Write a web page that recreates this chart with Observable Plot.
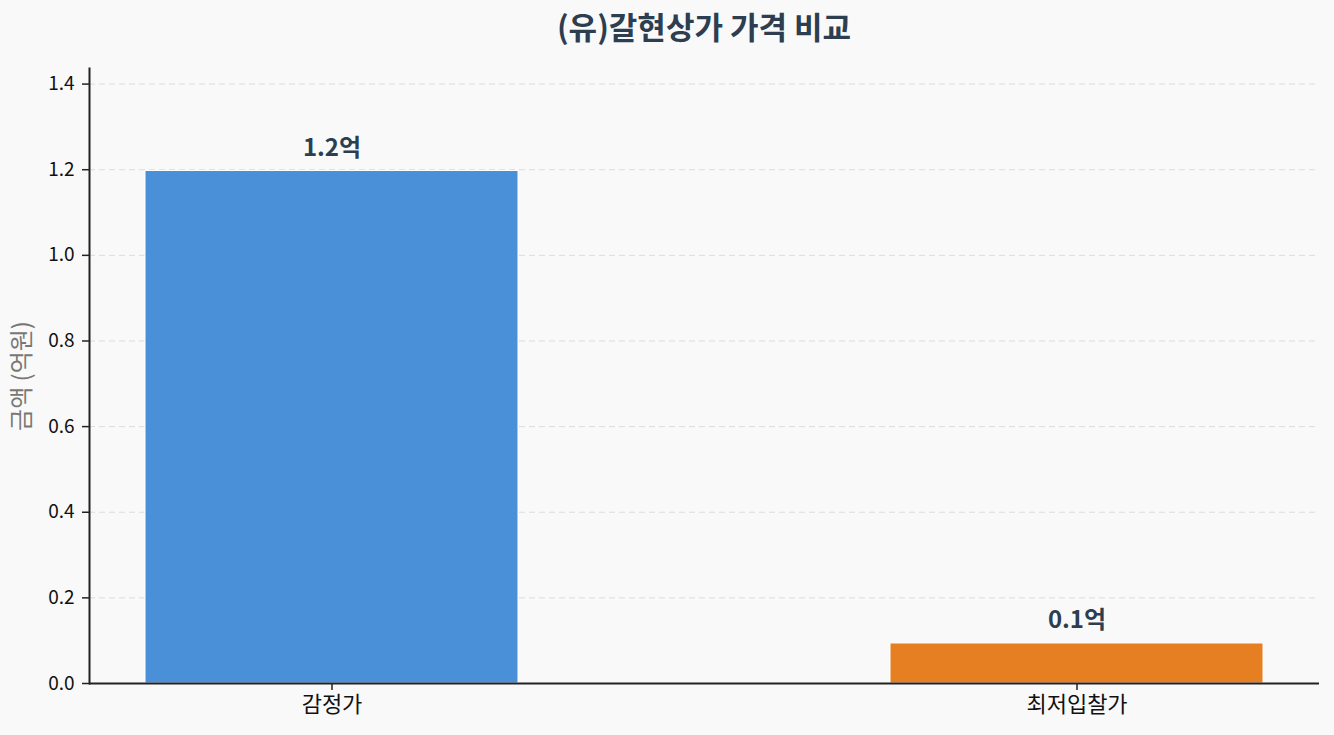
<!DOCTYPE html>
<html><head><meta charset="utf-8">
<script src="https://cdn.jsdelivr.net/npm/d3@7"></script>
<script src="https://cdn.jsdelivr.net/npm/@observablehq/plot@0.6"></script>
<style>
html,body{margin:0;padding:0;background:#f9f9f9;}
body{width:1334px;height:735px;overflow:hidden;font-family:"Noto Sans CJK KR","Noto Sans",sans-serif;}
#title{height:52px;line-height:51px;text-align:center;font-size:31px;font-weight:bold;color:#2c3e50;padding-left:74px;box-sizing:border-box;}
</style></head>
<body>
<div id="title">(유)갈현상가 가격 비교</div>
<div id="chart"></div>
<script>
const categories = ["감정가", "최저입찰가"];
const values = [1.197, 0.0935]; // 억원
const colors = ["#4a90d9", "#e67e22"];
const yTicks = [0, 0.2, 0.4, 0.6, 0.8, 1.0, 1.2, 1.4];

const data = categories.map((c, i) => ({cat: c, v: values[i], color: colors[i], label: values[i].toFixed(1) + "억"}));
const FONT = '"Noto Sans CJK KR","Noto Sans",sans-serif';

const chart = Plot.plot({
  width: 1334,
  height: 683,
  marginLeft: 89,
  marginRight: 15,
  marginTop: 16,
  marginBottom: 52,
  style: {background: "#f9f9f9", fontFamily: FONT, color: "#111"},
  x: {domain: categories, paddingInner: 0.5, paddingOuter: 0.075, axis: null},
  y: {domain: [0, values[0] * 1.2], axis: null},
  marks: [
    Plot.ruleY(yTicks.slice(1), {y: d => d, stroke: "#dcdcdc", strokeDasharray: "6,4", strokeWidth: 1}),
    Plot.barY(data, {x: "cat", y: "v", fill: "color", stroke: "white", strokeWidth: 1}),
    Plot.text(data, {x: "cat", y: "v", text: "label", lineAnchor: "bottom", dy: -15, fontSize: 24, fontWeight: "bold", fill: "#2c3e50"}),
    Plot.axisY(yTicks, {y: d => d, tickSize: 7, text: null, stroke: "#222", strokeWidth: 1.5, label: null}),
    Plot.text(yTicks, {y: d => d, frameAnchor: "left", textAnchor: "end", dx: -15, text: d => d.toFixed(1), fontSize: 19, fill: "#111"}),
    Plot.axisX(categories, {x: d => d, tickSize: 7, text: null, stroke: "#222", strokeWidth: 1.5, label: null}),
    Plot.text(categories, {x: d => d, frameAnchor: "bottom", lineAnchor: "top", dy: 13, text: d => d, fontSize: 22, fill: "#111"}),
    Plot.frame({anchor: "left", stroke: "#222", strokeWidth: 2}),
    Plot.ruleY([0], {stroke: "#222", strokeWidth: 2}),
    Plot.text(["금액 (억원)"], {frameAnchor: "left", textAnchor: "middle", dx: -67, rotate: -90, fontSize: 24, fill: "#777"})
  ]
});
document.getElementById("chart").appendChild(chart);
</script>
</body></html>
